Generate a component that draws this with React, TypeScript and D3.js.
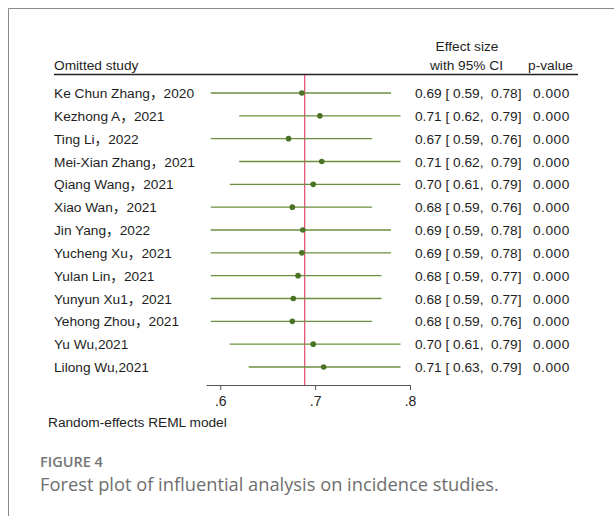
import { useEffect } from "react";
import * as d3 from "d3";

// omitted study labels (top to bottom)
const studies = [
  "Ke Chun Zhang，2020",
  "Kezhong A，2021",
  "Ting Li，2022",
  "Mei-Xian Zhang，2021",
  "Qiang Wang，2021",
  "Xiao Wan，2021",
  "Jin Yang，2022",
  "Yucheng Xu，2021",
  "Yulan Lin，2021",
  "Yunyun Xu1，2021",
  "Yehong Zhou，2021",
  "Yu Wu,2021",
  "Lilong Wu,2021",
];

// pooled effect when each study is left out
const estimates = [0.686, 0.705, 0.672, 0.707, 0.698, 0.676, 0.687, 0.686, 0.682, 0.677, 0.676, 0.698, 0.709];
const lowers = [0.59, 0.62, 0.59, 0.62, 0.61, 0.59, 0.59, 0.59, 0.59, 0.59, 0.59, 0.61, 0.63];
const uppers = [0.78, 0.79, 0.76, 0.79, 0.79, 0.76, 0.78, 0.78, 0.77, 0.77, 0.76, 0.79, 0.79];
const effectLabels = ["0.69", "0.71", "0.67", "0.71", "0.70", "0.68", "0.69", "0.69", "0.68", "0.68", "0.68", "0.70", "0.71"];
const pValues = ["0.000", "0.000", "0.000", "0.000", "0.000", "0.000", "0.000", "0.000", "0.000", "0.000", "0.000", "0.000", "0.000"];

const overall = 0.689;
const xTicks = [0.6, 0.7, 0.8];

export default function App() {
  useEffect(() => {
    document.body.style.margin = "0";
  }, []);

  const width = 614;
  const height = 516;

  const x = d3.scaleLinear().domain([0.585, 0.8]).range([206, 410]);
  const y = d3.scalePoint<string>().domain(studies).range([93, 367]);

  const f2 = d3.format(".2f");
  const font = "'Liberation Sans', Arial, 'Noto Sans CJK SC', sans-serif";
  const green = "#6a8f3d";
  const dotGreen = "#4b7325";
  const axisY = 385;

  const axisRef = (g: SVGGElement | null) => {
    if (!g) return;
    const sel = d3.select(g);
    sel.selectAll("*").remove();
    sel.call(
      d3
        .axisBottom(x)
        .tickValues(xTicks)
        .tickSize(5)
        .tickSizeOuter(0)
        .tickFormat((d) => String(d).replace(/^0\./, "."))
    );
    sel.select(".domain").attr("stroke", "#555").attr("stroke-width", 1.2);
    sel.selectAll(".tick line").attr("stroke", "#555");
    sel
      .selectAll(".tick text")
      .attr("fill", "#222")
      .attr("y", 11)
      .style("font-size", "14px")
      .style("font-family", font);
  };

  return (
    <svg width={width} height={height} style={{ display: "block" }}>
      <rect width={width} height={height} fill="#fff" />
      {/* frame */}
      <line x1={8.5} x2={width} y1={8.5} y2={8.5} stroke="#8a8a8a" strokeWidth={1} />
      <line x1={8.5} x2={8.5} y1={8.5} y2={height} stroke="#8a8a8a" strokeWidth={1} />

      <g fontFamily={font} fontSize={13.7} fill="#1e1e1e">
        {/* header */}
        <text x={54} y={70}>Omitted study</text>
        <text x={467} y={51} textAnchor="middle">Effect size</text>
        <text x={503} y={70} textAnchor="end">with 95% CI</text>
        <text x={573} y={70} textAnchor="end">p-value</text>
        <line x1={54} x2={578} y1={74.5} y2={74.5} stroke="#222" strokeWidth={1.3} />

        {/* overall effect */}
        <line
          x1={x(overall)}
          x2={x(overall)}
          y1={75}
          y2={axisY}
          stroke="#e24a6e"
          strokeWidth={1.2}
        />

        {studies.map((s, i) => {
          const cy = y(s) as number;
          return (
            <g key={s}>
              <text x={54} y={cy + 5}>{s}</text>
              <line
                x1={x(lowers[i])}
                x2={x(uppers[i])}
                y1={cy}
                y2={cy}
                stroke={green}
                strokeWidth={1.3}
              />
              <circle cx={x(estimates[i])} cy={cy} r={2.8} fill={dotGreen} />
              <text x={415} y={cy + 5} xmlSpace="preserve">
                {`${effectLabels[i]} [ ${f2(lowers[i])},  ${f2(uppers[i])}]`}
              </text>
              <text x={533} y={cy + 5} letterSpacing={0.5}>{pValues[i]}</text>
            </g>
          );
        })}

        <g ref={axisRef} transform={`translate(0,${axisY})`} />

        <text x={48} y={427}>Random-effects REML model</text>
      </g>

      {/* caption */}
      <text
        x={40}
        y={467}
        fontFamily="'Open Sans', Lato, sans-serif"
        fontSize={14.5}
        fontWeight={600}
        fill="#757575"
      >
        FIGURE 4
      </text>
      <text
        x={40}
        y={491}
        fontFamily="'Open Sans', Lato, sans-serif"
        fontSize={18.3}
        fill="#6e6e6e"
      >
        Forest plot of influential analysis on incidence studies.
      </text>
    </svg>
  );
}
